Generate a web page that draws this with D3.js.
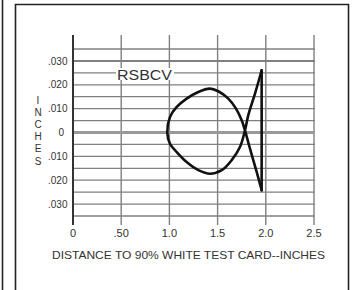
<!DOCTYPE html>
<html><head><meta charset="utf-8">
<script src="https://cdn.jsdelivr.net/npm/d3@7"></script>
<style>html,body{margin:0;padding:0;background:#fff;}svg{display:block;font-family:Arial,"Liberation Sans",Helvetica,sans-serif;}</style>
</head><body>
<svg id="c" width="353" height="290"></svg>
<script>
// Data
const xTicks = [0, 0.5, 1.0, 1.5, 2.0, 2.5];
const xTickLabels = ["0", ".50", "1.0", "1.5", "2.0", "2.5"];
const yTicks = [0.03, 0.02, 0.01, 0, -0.01, -0.02, -0.03];
const yTickLabels = [".030", ".020", ".010", "0", ".010", ".020", ".030"];
const yGrid = [0.035, 0.03, 0.025, 0.02, 0.015, 0.01, 0.005, 0, -0.005, -0.01, -0.015, -0.02, -0.025, -0.03, -0.035];
// curve: from top tip, down through crossing, round the loop, back through crossing to bottom tip
const curveX = [1.957, 1.888, 1.818, 1.784, 1.732, 1.646, 1.543, 1.421, 1.300, 1.179, 1.076, 1.006, 0.978,
                1.006, 1.076, 1.179, 1.300, 1.421, 1.507, 1.611, 1.691, 1.750, 1.784, 1.836, 1.906, 1.957];
const curveY = [0.0261, 0.0163, 0.0072, 0.0009, -0.0061, -0.0116, -0.0158, -0.0173, -0.0158, -0.0124, -0.0082, -0.0047, 0.0,
                0.0065, 0.0107, 0.0142, 0.0170, 0.0184, 0.0173, 0.0142, 0.0100, 0.0051, 0.0009, -0.0068, -0.0166, -0.0242];
const seriesLabel = "RSBCV";
const xTitle = "DISTANCE TO 90% WHITE TEST CARD--INCHES";
const yTitle = "INCHES";

const svg = d3.select("#c");
const x = d3.scaleLinear().domain([0, 2.5]).range([73, 314]);
const y = d3.scaleLinear().domain([-0.035, 0.035]).range([216, 49]);

// frames
svg.append("line").attr("x1", 2.5).attr("x2", 2.5).attr("y1", 0).attr("y2", 290)
  .attr("stroke", "#222").attr("stroke-width", 1.6);
svg.append("path").attr("d", "M15.5,292 V4.5 H348.5 V292")
  .attr("fill", "none").attr("stroke", "#222").attr("stroke-width", 1.6);

// vertical gridlines
svg.append("g").selectAll("line").data(xTicks.slice(1)).join("line")
  .attr("x1", d => x(d)).attr("x2", d => x(d)).attr("y1", 35).attr("y2", 225)
  .attr("stroke", "#808080").attr("stroke-width", 1.4);

// horizontal gridlines
svg.append("g").selectAll("line").data(yGrid).join("line")
  .attr("x1", x(0)).attr("x2", x(2.5) + 1).attr("y1", d => y(d)).attr("y2", d => y(d))
  .attr("stroke", d => (d === 0 ? "#999" : "#808080"))
  .attr("stroke-width", d => (d === 0 ? 3 : (Math.abs(d - 0.03) < 1e-9 ? 1.9 : 1.3)));

// y axis line
svg.append("line").attr("x1", x(0)).attr("x2", x(0)).attr("y1", 35).attr("y2", 225)
  .attr("stroke", "#333").attr("stroke-width", 2);

// series label with white background
const lblX = 144.5, lblY = 74;
svg.append("rect").attr("x", lblX - 28.5).attr("y", lblY - 6).attr("width", 58).attr("height", 12).attr("fill", "#fff");
svg.append("text").attr("x", lblX).attr("y", lblY + 5.5).attr("text-anchor", "middle")
  .attr("font-size", 15).attr("fill", "#333").attr("textLength", 55).attr("lengthAdjust", "spacingAndGlyphs")
  .text(seriesLabel);

// curve
const pts = curveX.map((v, i) => [v, curveY[i]]);
const lineGen = d3.line().x(d => x(d[0])).y(d => y(d[1]));
svg.append("path").datum(pts)
  .attr("d", lineGen.curve(d3.curveCatmullRom.alpha(0.5)))
  .attr("fill", "none").attr("stroke", "#111").attr("stroke-width", 2.6)
  .attr("stroke-linejoin", "round").attr("stroke-linecap", "round");
// straight segment joining the two tips
svg.append("path").datum([pts[0], pts[pts.length - 1]])
  .attr("d", d3.line().x(d => x(d[0])).y(d => y(d[1])))
  .attr("fill", "none").attr("stroke", "#111").attr("stroke-width", 2.6)
  .attr("stroke-linecap", "round");

// x tick labels
svg.append("g").selectAll("text").data(xTicks).join("text")
  .attr("x", d => x(d)).attr("y", 236.5).attr("text-anchor", "middle")
  .attr("font-size", 11).attr("fill", "#333")
  .text((d, i) => xTickLabels[i]);

// y tick labels
svg.append("g").selectAll("text").data(yTicks).join("text")
  .attr("x", (d, i) => (yTickLabels[i] === "0" ? 64 : 67.5)).attr("y", d => y(d) + 3.6)
  .attr("text-anchor", "end").attr("font-size", 10).attr("fill", "#333")
  .text((d, i) => yTickLabels[i]);

// y title: stacked letters
svg.append("g").selectAll("text").data(yTitle.split("")).join("text")
  .attr("x", 38).attr("y", (d, i) => 104 + i * 12.1).attr("text-anchor", "middle")
  .attr("font-size", 10).attr("fill", "#333").text(d => d);

// x title
svg.append("text").attr("x", 188.5).attr("y", 259).attr("text-anchor", "middle")
  .attr("font-size", 11).attr("fill", "#333").attr("textLength", 273).attr("lengthAdjust", "spacingAndGlyphs")
  .text(xTitle);
</script>
</body></html>
